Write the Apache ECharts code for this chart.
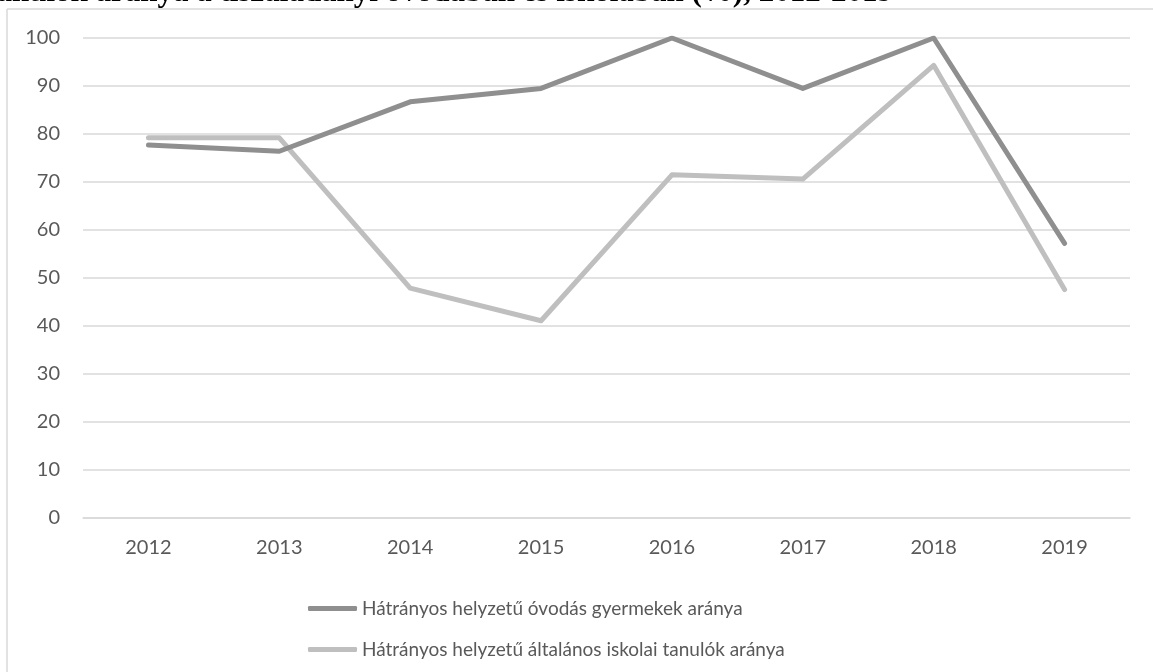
<!DOCTYPE html>
<html>
<head>
<meta charset="utf-8">
<script src="https://cdn.jsdelivr.net/npm/echarts@6/dist/echarts.min.js"></script>
<style>
  html, body { margin: 0; padding: 0; background: #ffffff; }
  #chart { width: 1153px; height: 672px; }
</style>
</head>
<body>
<div id="chart"></div>
<script>
// Years on the category axis
const years = ['2012', '2013', '2014', '2015', '2016', '2017', '2018', '2019'];

// Share of disadvantaged kindergarten children (%)
const ovodasArany = [77.7, 76.4, 86.7, 89.5, 100, 89.5, 100, 57.2];

// Share of disadvantaged primary-school pupils (%)
const iskolaiArany = [79.2, 79.2, 47.9, 41.1, 71.5, 70.6, 94.3, 47.6];

const seriesNames = [
  'Hátrányos helyzetű óvodás gyermekek aránya',
  'Hátrányos helyzetű általános iskolai tanulók aránya'
];

const titleText = 'tanulók aránya a tiszaladányi óvodában és iskolában (%), 2012-2019';

const labelFont = 'Lato';
const labelColor = '#595959';

const chart = echarts.init(document.getElementById('chart'), null, { renderer: 'canvas' });

chart.setOption({
  animation: false,
  backgroundColor: '#ffffff',
  grid: { left: 83, right: 23, top: 38, bottom: 154, containLabel: false },
  xAxis: {
    type: 'category',
    data: years,
    boundaryGap: true,
    axisLine: { show: true, lineStyle: { color: '#d9d9d9', width: 1.5 } },
    axisTick: { show: false },
    axisLabel: { color: labelColor, fontFamily: labelFont, fontSize: 20, margin: 20 }
  },
  yAxis: {
    type: 'value',
    min: 0,
    max: 100,
    interval: 10,
    axisLine: { show: false },
    axisTick: { show: false },
    splitLine: { lineStyle: { color: '#d9d9d9', width: 1.5 } },
    axisLabel: { color: labelColor, fontFamily: labelFont, fontSize: 20, margin: 23 }
  },
  legend: {
    orient: 'vertical',
    left: 303,
    top: 594,
    itemWidth: 49,
    itemHeight: 5,
    itemGap: 22,
    icon: 'roundRect',
    textStyle: { color: labelColor, fontFamily: labelFont, fontSize: 19 },
    data: seriesNames
  },
  series: [
    {
      name: seriesNames[0],
      type: 'line',
      data: ovodasArany,
      symbol: 'none',
      lineStyle: { color: '#8f8f8f', width: 5, cap: 'round', join: 'round' },
      itemStyle: { color: '#8f8f8f' },
      z: 3
    },
    {
      name: seriesNames[1],
      type: 'line',
      data: iskolaiArany,
      symbol: 'none',
      lineStyle: { color: '#bfbfbf', width: 5, cap: 'round', join: 'round' },
      itemStyle: { color: '#bfbfbf' },
      z: 2
    }
  ],
  graphic: [
    {
      type: 'text',
      right: 1153 - 893,
      top: -23,
      style: {
        text: titleText,
        fill: '#000000',
        font: 'bold 31px "Liberation Serif"',
        textAlign: 'right'
      }
    },
    {
      type: 'line',
      shape: { x1: 7, y1: 9, x2: 1153, y2: 9 },
      style: { stroke: '#d9d9d9', lineWidth: 1.5 }
    },
    {
      type: 'line',
      shape: { x1: 7, y1: 9, x2: 7, y2: 672 },
      style: { stroke: '#d9d9d9', lineWidth: 1.5 }
    }
  ]
});
</script>
</body>
</html>
